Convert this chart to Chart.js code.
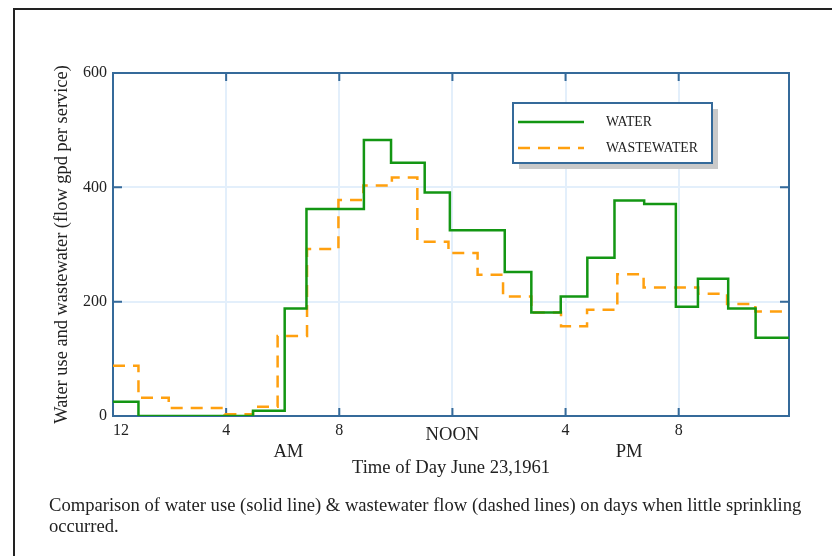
<!DOCTYPE html>
<html>
<head>
	<title>Water use and wastewater flow - June 23, 1961</title>
	<meta charset="utf-8" />
	<script src="https://cdn.jsdelivr.net/npm/chart.js@4.4.1/dist/chart.umd.min.js"></script>
	<style>
		html, body { margin: 0; padding: 0; background: #fff; overflow: hidden; }
		#frame { position: absolute; left: 13px; top: 8px; width: 830px; height: 560px;
			border-left: 2px solid #222; border-top: 2px solid #222; }
		#wrap { position: absolute; left: 0; top: 0; width: 832px; height: 556px; }
		#note { position: absolute; left: 49px; top: 494px; width: 770px;
			font-family: 'Liberation Serif', 'Times New Roman', serif; font-size: 18.6px;
			line-height: 21px; color: #222; }
	</style>
</head>
<body>

<div id="frame"></div>
<div id="wrap"><canvas id="flowChart" width="832" height="556"></canvas></div>
<div id="note">Comparison of water use (solid line) &amp; wastewater flow (dashed lines) on days when little sprinkling occurred.</div>

<script type="text/javascript">
// hour of day (0 = midnight) where each hourly reading starts
var waterHours = [0, 0.9, 4.95, 6.07, 6.84, 8.87, 9.83, 11.02, 11.91, 13.85, 14.79, 15.83, 16.77, 17.73, 18.78, 19.9, 20.68, 21.75, 22.72];
var waterFlow  = [25, 0, 9, 188, 362, 483, 443, 391, 325, 252, 181, 209, 277, 377, 371, 191, 240, 188, 137];

var wasteHours = [0, 0.9, 1.97, 3.94, 4.95, 5.82, 6.86, 7.97, 8.85, 9.86, 10.76, 11.86, 12.89, 13.79, 14.79, 15.84, 16.76, 17.83, 18.76, 20.69, 21.71, 22.71];
var wasteFlow  = [88, 32, 14, 3, 16, 140, 292, 378, 403, 417, 305, 285, 247, 209, 181, 157, 186, 248, 225, 214, 196, 183];

var endHour = 23.9;

// axis ticks
var hourTicks  = [0, 4, 8, 12, 16, 20];
var hourLabels = ['12', '4', '8', 'NOON', '4', '8'];
var halfLabels = ['AM', 'PM'];
var halfHours  = [6.2, 18.25];
var flowTicks  = [0, 200, 400, 600];

var SERIF = "'Liberation Serif', 'Times New Roman', serif";
var AXIS_BLUE = '#356a9a';
var GREEN = '#139613';
var ORANGE = '#ffa00f';

// turn start hours + values into points for a stepped line
function stepPoints(hours, flows) {
	var pts = hours.map(function (h, i) { return {x: h, y: flows[i]}; });
	pts.push({x: endHour, y: flows[flows.length - 1]});
	return pts;
}

// blue box round the plot with inward tick marks
var plotBox = {
	id: 'plotBox',
	beforeDatasetsDraw: function (chart) {
		var ctx = chart.ctx, a = chart.chartArea;
		var xs = chart.scales.x, ys = chart.scales.y;
		ctx.save();
		ctx.strokeStyle = AXIS_BLUE;
		ctx.lineWidth = 2;
		ctx.strokeRect(a.left, a.top, a.right - a.left, a.bottom - a.top);
		ctx.beginPath();
		hourTicks.forEach(function (h) {
			var px = xs.getPixelForValue(h);
			if (h === 0) return;
			ctx.moveTo(px, a.bottom); ctx.lineTo(px, a.bottom - 8);
			ctx.moveTo(px, a.top); ctx.lineTo(px, a.top + 8);
		});
		flowTicks.forEach(function (v) {
			var py = ys.getPixelForValue(v);
			if (v === 0 || v === 600) return;
			ctx.moveTo(a.left, py); ctx.lineTo(a.left + 9, py);
			ctx.moveTo(a.right, py); ctx.lineTo(a.right - 9, py);
		});
		ctx.stroke();
		ctx.restore();
	}
};

// hour labels under the axis, plus AM / PM
var hourText = {
	id: 'hourText',
	afterDraw: function (chart) {
		var ctx = chart.ctx, a = chart.chartArea, xs = chart.scales.x;
		ctx.save();
		ctx.fillStyle = '#222';
		ctx.textBaseline = 'middle';
		hourTicks.forEach(function (h, i) {
			var px = xs.getPixelForValue(h);
			var lbl = hourLabels[i];
			var word = lbl === 'NOON';
			ctx.font = (word ? '18.6px ' : '16px ') + SERIF;
			ctx.textAlign = i === 0 ? 'left' : 'center';
			ctx.fillText(lbl, px, a.bottom + (word ? 19 : 15));
		});
		ctx.font = '18.6px ' + SERIF;
		ctx.textAlign = 'center';
		halfHours.forEach(function (h, i) {
			ctx.fillText(halfLabels[i], xs.getPixelForValue(h), a.bottom + 36);
		});
		ctx.restore();
	}
};

// boxed legend with drop shadow
var boxLegend = {
	id: 'boxLegend',
	afterDatasetsDraw: function (chart) {
		var ctx = chart.ctx;
		var bx = 513, by = 103, bw = 199, bh = 60;
		ctx.save();
		ctx.fillStyle = '#c9c9c9';
		ctx.fillRect(bx + 6, by + 6, bw, bh);
		ctx.fillStyle = '#fff';
		ctx.fillRect(bx, by, bw, bh);
		ctx.strokeStyle = AXIS_BLUE;
		ctx.lineWidth = 2;
		ctx.strokeRect(bx, by, bw, bh);

		ctx.font = '13.8px ' + SERIF;
		ctx.textBaseline = 'middle';
		ctx.textAlign = 'left';
		chart.data.datasets.forEach(function (ds, i) {
			var ly = by + 19 + i * 26;
			ctx.strokeStyle = ds.borderColor;
			ctx.lineWidth = 2.5;
			ctx.setLineDash(ds.borderDash || []);
			ctx.beginPath();
			ctx.moveTo(bx + 5, ly);
			ctx.lineTo(bx + 71, ly);
			ctx.stroke();
			ctx.setLineDash([]);
			ctx.fillStyle = '#222';
			ctx.fillText(ds.label, bx + 93, ly);
		});
		ctx.restore();
	}
};

var ctx = document.getElementById('flowChart').getContext('2d');
var chart = new Chart(ctx, {
	type: 'line',
	data: {
		datasets: [
			{
				label: 'WATER',
				data: stepPoints(waterHours, waterFlow),
				stepped: true,
				borderColor: GREEN,
				borderWidth: 2.5,
				pointRadius: 0,
				fill: false
			},
			{
				label: 'WASTEWATER',
				data: stepPoints(wasteHours, wasteFlow),
				stepped: true,
				borderColor: ORANGE,
				borderWidth: 2.5,
				borderDash: [12, 8],
				pointRadius: 0,
				fill: false
			}
		]
	},
	options: {
		responsive: false,
		animation: false,
		layout: { padding: { left: 0, right: 43, top: 73, bottom: 0 } },
		plugins: {
			legend: { display: false },
			tooltip: { enabled: false }
		},
		scales: {
			x: {
				type: 'linear',
				min: 0,
				max: endHour,
				afterBuildTicks: function (scale) {
					scale.ticks = hourTicks.map(function (v) { return {value: v}; });
				},
				afterFit: function (scale) { scale.height = 140; },
				ticks: { display: false },
				grid: { color: '#e3effb', lineWidth: 2, drawTicks: false },
				border: { display: false },
				title: {
					display: true,
					text: 'Time of Day June 23,1961',
					color: '#222',
					font: { family: SERIF, size: 18.6 },
					padding: { top: 0, bottom: 77 }
				}
			},
			y: {
				min: 0,
				max: 600,
				afterBuildTicks: function (scale) {
					scale.ticks = flowTicks.map(function (v) { return {value: v}; });
				},
				afterFit: function (scale) { scale.width = 113; },
				ticks: {
					color: '#222',
					font: { family: SERIF, size: 16 },
					padding: 6
				},
				grid: { color: '#e3effb', lineWidth: 2, drawTicks: false },
				border: { display: false },
				title: {
					display: true,
					text: 'Water use and wastewater (flow gpd per service)',
					color: '#222',
					font: { family: SERIF, size: 18.4 },
					padding: { top: 51, bottom: 0 }
				}
			}
		}
	},
	plugins: [plotBox, hourText, boxLegend]
});
</script>
</body>
</html>
